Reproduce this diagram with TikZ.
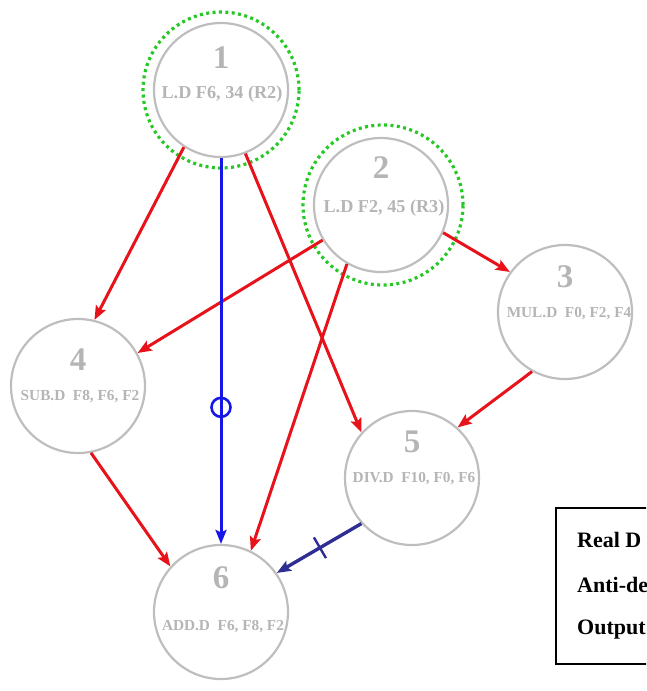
\documentclass[tikz,border=0pt]{standalone}
\usepackage{fontspec}
\setmainfont{Liberation Serif}
\usetikzlibrary{arrows.meta}
\definecolor{nodegray}{HTML}{BEBEBE}
\definecolor{txtgray}{HTML}{B5B5B5}
\definecolor{redarr}{HTML}{E8121B}
\definecolor{bluearr}{HTML}{1616E8}
\definecolor{navyarr}{HTML}{2E2E94}
\definecolor{dotgreen}{HTML}{26C826}
\begin{document}
\begin{tikzpicture}[x=1pt,y=-1pt,
  inst/.style={circle, draw=nodegray, line width=2.2pt, minimum size=134pt, inner sep=0pt},
  ring/.style={circle, draw=dotgreen, line width=3.2pt, dash pattern=on 3pt off 3.4pt, inner sep=0pt},
  num/.style={anchor=base, inner sep=0pt, text=txtgray, font=\bfseries\fontsize{33}{33}\selectfont},
  lbl/.style={anchor=base, inner sep=0pt, text=txtgray, font=\bfseries\fontsize{15.3}{16}\selectfont},
  lblbig/.style={anchor=base, inner sep=0pt, text=txtgray, font=\bfseries\fontsize{18.2}{19}\selectfont},
  dep/.style={draw=redarr, line width=3pt, -{Stealth[length=14pt,width=11pt,inset=2.5pt]}},
  anti/.style={draw=bluearr, line width=3pt, -{Stealth[length=14pt,width=11pt,inset=2.5pt]}},
  outd/.style={draw=navyarr, line width=3.4pt, -{Stealth[length=14pt,width=11pt,inset=2.5pt]}},
  legtxt/.style={anchor=base west, inner sep=0pt, text=black, font=\bfseries\fontsize{22}{23}\selectfont}
]
\useasboundingbox (0,0) rectangle (646,691);
\clip (0,0) rectangle (646,691);

% instruction circles
\node[inst] (n1) at (221,90) {};
\node[inst] (n2) at (381,205) {};
\node[inst] (n3) at (565,312) {};
\node[inst] (n4) at (78,386) {};
\node[inst] (n5) at (412,478) {};
\node[inst] (n6) at (221,612) {};

% green dotted rings
\node[ring, minimum size=156pt] (g1) at (221,90) {};
\node[ring, minimum size=160pt] (g2) at (383,205) {};

% texts
\node[num] (t1) at (221,68) {1};
\node[lblbig] (l1) at (222,98) {L.D F6, 34 (R2)};
\node[num] (t2) at (381,178) {2};
\node[lblbig] (l2) at (384,212) {L.D F2, 45 (R3)};
\node[num] (t3) at (565,287) {3};
\node[lbl] (l3) at (569,317) {MUL.D\ \ F0, F2, F4};
\node[num] (t4) at (78,370) {4};
\node[lbl] (l4) at (80,400) {SUB.D\ \ F8, F6, F2};
\node[num] (t5) at (412,452) {5};
\node[lbl] (l5) at (414,482) {DIV.D\ \ F10, F0, F6};
\node[num] (t6) at (221,588) {6};
\node[lbl] (l6) at (223,630) {ADD.D\ \ F6, F8, F2};

% true dependences
\draw[dep] (n1.237) -- (n4.76);
\draw[dep] (n1.291) -- (n5.138);
\draw[dep] (n2.211) -- (n4.29);
\draw[dep] (n2.240) -- (n6.64);
\draw[dep] (n2.336) -- (n3.144);
\draw[dep] (n3.241) -- (n5.48);
\draw[dep] (n4.281) -- (n6.138);

% anti-dependence
\draw[anti] (n1.south) -- node[pos=0.646, circle, draw=bluearr, line width=2.6pt, minimum size=19pt, inner sep=0pt] (am) {} (n6.north);

% output dependence
\draw[outd] (n5.222) -- node[pos=0.49, sloped, draw=navyarr, line width=2.4pt, minimum width=0pt, minimum height=24pt, inner sep=0pt] (om) {} (n6.35);

% legend box
\draw[black, line width=1.8pt] (556,508) rectangle (670,664);
\node[legtxt] (lg1) at (577,547) {Real D};
\node[legtxt] (lg2) at (577,592) {Anti-de};
\node[legtxt] (lg3) at (577,634) {Output};
\end{tikzpicture}
\end{document}
